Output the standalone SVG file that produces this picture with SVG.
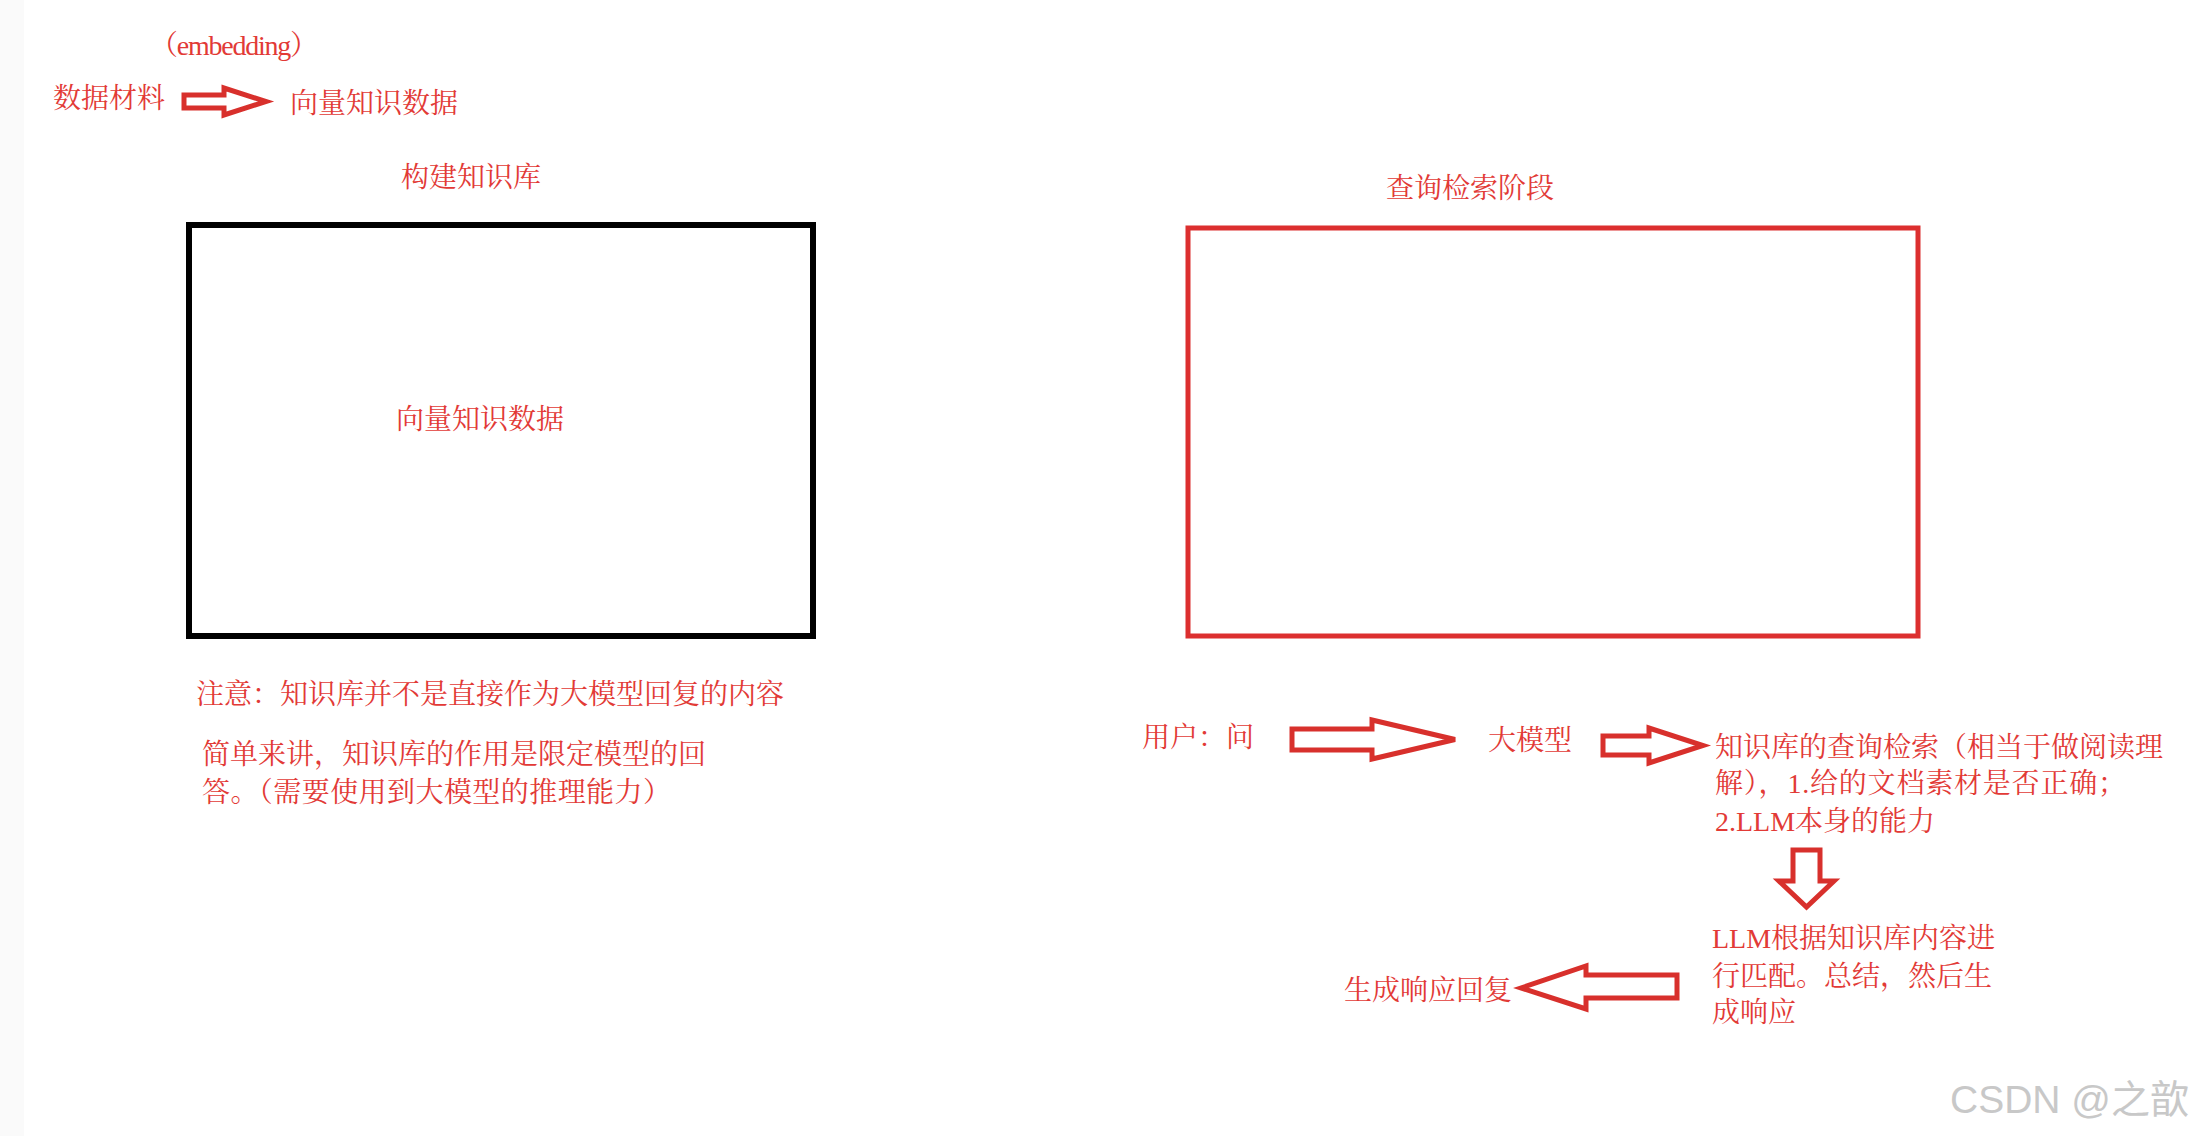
<svg xmlns="http://www.w3.org/2000/svg" width="2200" height="1136" viewBox="0 0 2200 1136">
<style>
.t{font-family:"Liberation Serif","Noto Serif CJK SC","Noto Sans CJK SC",serif;font-size:28px;fill:#e23a36;}
.arrow{fill:#ffffff;stroke:#d8302c;stroke-width:5;stroke-linejoin:miter;}
.wm{font-family:"Liberation Sans","Noto Sans CJK SC",sans-serif;font-size:39px;fill:#c8c8c8;}
</style>
<rect x="0" y="0" width="2200" height="1136" fill="#ffffff"/>
<rect x="0" y="0" width="24" height="1136" fill="#fafafa"/>

<g id="title-embedding">
<text class="t" x="150" y="55" textLength="168" lengthAdjust="spacing">（embedding）</text>
</g>
<g id="node-data-material">
<text class="t" x="53" y="108">数据材料</text>
</g>
<g id="node-vector-top">
<text class="t" x="290" y="113">向量知识数据</text>
</g>
<g id="node-build-kb">
<text class="t" x="401" y="187">构建知识库</text>
<rect x="189" y="225" width="624" height="411" fill="none" stroke="#000000" stroke-width="6"/>
<text class="t" x="396" y="429">向量知识数据</text>
</g>
<g id="note-left">
<text class="t" x="196" y="704">注意：知识库并不是直接作为大模型回复的内容</text>
<text class="t" x="202" y="764">简单来讲，知识库的作用是限定模型的回</text>
<text class="t" x="202" y="802" textLength="469" lengthAdjust="spacing">答。（需要使用到大模型的推理能力）</text>
</g>
<g id="node-query-stage">
<text class="t" x="1386" y="198">查询检索阶段</text>
<rect x="1188" y="228" width="730" height="408" fill="none" stroke="#dc2f2f" stroke-width="5"/>
</g>
<g id="node-user">
<text class="t" x="1142" y="747">用户：问</text>
</g>
<g id="node-llm">
<text class="t" x="1488" y="750">大模型</text>
</g>
<g id="node-retrieval">
<text class="t" x="1715" y="757">知识库的查询检索（相当于做阅读理</text>
<text class="t" x="1715" y="793" textLength="411" lengthAdjust="spacing">解），1.给的文档素材是否正确；</text>
<text class="t" x="1715" y="831">2.LLM本身的能力</text>
</g>
<g id="node-match">
<text class="t" x="1712" y="948">LLM根据知识库内容进</text>
<text class="t" x="1712" y="986">行匹配。总结，然后生</text>
<text class="t" x="1712" y="1022">成响应</text>
</g>
<g id="node-response">
<text class="t" x="1344" y="1000">生成响应回复</text>
</g>
<g id="connectors">
<path class="arrow" d="M184,95 H224 V88 L266,101.5 L224,115 V108 H184 Z"/>
<path class="arrow" d="M1292,729 H1372 V720 L1455,739.5 L1372,759 V750 H1292 Z"/>
<path class="arrow" d="M1603,736 H1649 V728 L1703,745.5 L1649,763 V755 H1603 Z"/>
<path class="arrow" d="M1793,850 H1820 V881 H1834 L1806.5,907 L1779,881 H1793 Z"/>
<path class="arrow" d="M1677,975 H1586 V966 L1521,988 L1586,1009 V998 H1677 Z"/>
</g>
<g id="watermark">
<text class="wm" x="1950" y="1113">CSDN @之歆</text>
</g>
</svg>
